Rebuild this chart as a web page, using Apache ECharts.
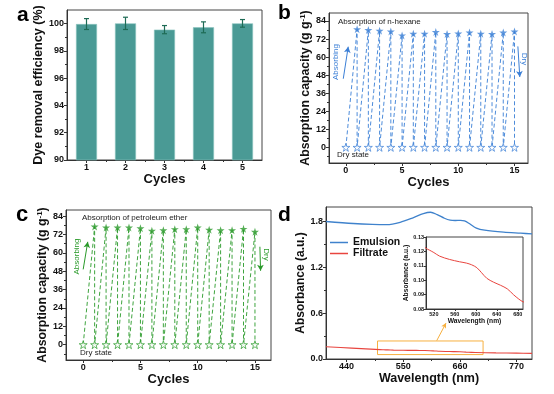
<!DOCTYPE html>
<html><head><meta charset="utf-8">
<script src="https://cdn.jsdelivr.net/npm/echarts@6/dist/echarts.min.js"></script>
<style>html,body{margin:0;padding:0;background:#fff}#c{width:554px;height:394px}</style>
</head><body><div id="c"></div>
<script>
// ---------- Panel a: dye removal efficiency ----------
const cyclesA = [1, 2, 3, 4, 5];
const efficiency = [99.97, 100.02, 99.56, 99.73, 100.02];
const efficiencyErr = [0.4, 0.45, 0.3, 0.4, 0.28];
const ticksAY = [90, 92, 94, 96, 98, 100];
const minorAY = [91, 93, 95, 97, 99];
const ticksAX = [1, 2, 3, 4, 5];
const minorAX = [1.5, 2.5, 3.5, 4.5];

// ---------- Panels b, c: absorption cycles ----------
const cyclesAbs = [1, 2, 3, 4, 5, 6, 7, 8, 9, 10, 11, 12, 13, 14, 15];
const dryCycles = [0, 1, 2, 3, 4, 5, 6, 7, 8, 9, 10, 11, 12, 13, 14, 15];
const hexaneCapacity = [78.5, 78.0, 77.5, 77.0, 74.4, 75.5, 75.5, 76.7, 75.3, 75.7, 76.3, 75.5, 75.3, 76.3, 77.0];
const petroleumCapacity = [77.2, 76.6, 76.6, 76.6, 76.1, 74.4, 74.8, 75.5, 75.5, 76.6, 75.1, 74.8, 74.8, 75.7, 73.8];
const ticksCapY = [0, 12, 24, 36, 48, 60, 72, 84];
const minorCapY = [-6, 6, 18, 30, 42, 54, 66, 78];
const ticksCycX = [0, 5, 10, 15];
const minorCycX = [2.5, 7.5, 12.5];

// ---------- Panel d: UV-vis spectra ----------
const emulsionWl = [400, 453, 490, 518, 544, 570, 589, 603, 616, 630, 641, 651, 661, 669, 679, 692, 708, 745, 778, 800];
const emulsionAbs = [1.80, 1.774, 1.763, 1.76, 1.79, 1.852, 1.903, 1.921, 1.89, 1.843, 1.818, 1.813, 1.816, 1.808, 1.77, 1.713, 1.686, 1.66, 1.647, 1.638];
const filtrateWl = [400, 450, 505, 512, 520, 531, 550, 569, 582, 592, 602, 611, 621, 634, 647, 660, 672, 682, 690, 730, 770, 800];
const filtrateAbs = [0.16, 0.142, 0.1222, 0.1208, 0.1192, 0.1167, 0.1144, 0.1128, 0.1119, 0.1107, 0.1087, 0.1052, 0.1013, 0.0986, 0.0965, 0.094, 0.0899, 0.0869, 0.085, 0.08, 0.077, 0.074];
const ticksDX = [440, 550, 660, 770];
const minorDX = [495, 605, 715];
const ticksDY = [0, 0.6, 1.2, 1.8];
const minorDY = [0.3, 0.9, 1.5];
const ticksInX = [520, 560, 600, 640, 680];
const ticksInY = [0.08, 0.09, 0.10, 0.11, 0.12, 0.13];

const FONT = 'Liberation Sans';
const BLUE = '#3b7fd6';
const GREEN = '#2a9a2a';
const TEAL = '#4a9a95';
const STAR = 'path://M50,2 L61.8,38.2 L99.8,38.2 L69,60.6 L80.9,96.8 L50,74.4 L19.1,96.8 L31,60.6 L0.2,38.2 L38.2,38.2 Z';

function mkAxis(g, min, max, major, minor, fmt, name, gap, nsz, lsz, isY, rich) {
  const pos = isY ? 'left' : 'bottom';
  const main = {
    type: 'value', gridIndex: g, min: min, max: max, position: pos,
    axisLine: {show: true, onZero: false, lineStyle: {color: '#333', width: 1}},
    axisTick: {show: true, length: 3, customValues: major, lineStyle: {color: '#333'}},
    axisLabel: {customValues: major, fontSize: lsz, fontWeight: 'bold', fontFamily: FONT, color: '#111', margin: 3, formatter: fmt},
    splitLine: {show: false},
    name: name, nameLocation: 'middle', nameGap: gap,
    nameTextStyle: {fontSize: nsz, fontWeight: 'bold', fontFamily: FONT, color: '#111', rich: rich}
  };
  if (isY) main.nameRotate = 90;
  const res = [main];
  if (minor) {
    res.push({
      type: 'value', gridIndex: g, min: min, max: max, position: pos,
      axisLine: {show: false, onZero: false}, axisLabel: {show: false}, splitLine: {show: false},
      axisTick: {show: true, length: 2, customValues: minor, lineStyle: {color: '#333'}}
    });
  }
  return res;
}
const supRich = {s: {fontSize: 8, fontWeight: 'bold', fontFamily: FONT, color: '#111', verticalAlign: 'top', padding: [0, 0, 6, 0]}};
const capName = 'Absorption capacity (g g{s|-1})';

const xAxis = [].concat(
  mkAxis(0, 0.5, 5.5, ticksAX, minorAX, null, 'Cycles', 12, 13, 9, false),
  mkAxis(1, -1.5, 16.2, ticksCycX, minorCycX, null, 'Cycles', 9, 13, 9, false),
  mkAxis(2, -1.5, 16.4, ticksCycX, minorCycX, null, 'Cycles', 10, 13, 9, false),
  mkAxis(3, 400, 800, ticksDX, minorDX, null, 'Wavelength (nm)', 11, 12.5, 9, false),
  mkAxis(4, 505, 690, ticksInX, null, null, 'Wavelength (nm)', 6, 6.7, 5.5, false)
);
const yAxis = [].concat(
  mkAxis(0, 90, 101, ticksAY, minorAY, null, 'Dye removal efficiency (%)', 20, 12.6, 9, true),
  mkAxis(1, -10.4, 89.3, ticksCapY, minorCapY, null, capName, 14, 12.3, 9, true, supRich),
  mkAxis(2, -10, 88, ticksCapY, minorCapY, null, capName, 15, 12.3, 9, true, supRich),
  mkAxis(3, 0, 1.99, ticksDY, minorDY, v => v.toFixed(1), 'Absorbance (a.u.)', 16, 12, 9, true),
  mkAxis(4, 0.08, 0.13, ticksInY, null, v => v.toFixed(2), 'Absorbance (a.u.)', 14, 6.7, 5.5, true)
);
xAxis[8].axisTick.length = 2; yAxis[8].axisTick.length = 2;
xAxis[8].axisLabel.margin = 2; yAxis[8].axisLabel.margin = 2;

const gridStyle = {show: true, borderColor: '#444', borderWidth: 1, backgroundColor: 'rgba(0,0,0,0)'};
const grid = [
  Object.assign({left: 67, top: 10, width: 195, height: 150}, gridStyle),
  Object.assign({left: 329, top: 13, width: 199, height: 150}, gridStyle),
  Object.assign({left: 66, top: 210, width: 205, height: 150}, gridStyle),
  Object.assign({left: 326, top: 207, width: 206, height: 152}, gridStyle),
  Object.assign({left: 426, top: 237, width: 97, height: 72}, gridStyle, {backgroundColor: '#fff'})
];

function zigzag(tops) {
  const seq = [[0, 0]];
  cyclesAbs.forEach((c, i) => { seq.push([c, tops[i]]); seq.push([c, 0]); });
  return seq;
}
function cycleSeries(xi, tops, color, arrows) {
  return [
    {type: 'line', xAxisIndex: xi, yAxisIndex: xi, data: zigzag(tops), symbol: 'none',
     lineStyle: {color: color, width: 1, opacity: 0.9, type: [4, 2.5]}, z: 2,
     markLine: {silent: true, symbol: ['none', 'arrow'], symbolSize: [5, 6], label: {show: false},
       lineStyle: {type: 'solid', color: color, width: 1, opacity: 1}, data: arrows}},
    {type: 'scatter', xAxisIndex: xi, yAxisIndex: xi, data: cyclesAbs.map((c, i) => [c, tops[i]]),
     symbol: STAR, symbolSize: 8, itemStyle: {color: color}, z: 3},
    {type: 'scatter', xAxisIndex: xi, yAxisIndex: xi, data: dryCycles.map(c => [c, 0]),
     symbol: STAR, symbolSize: 8, itemStyle: {color: '#fff', borderColor: color, borderWidth: 0.9}, z: 3}
  ];
}

const series = [
  {type: 'bar', xAxisIndex: 0, yAxisIndex: 0, data: cyclesA.map((c, i) => [c, efficiency[i]]),
   barWidth: 21, itemStyle: {color: TEAL, borderColor: '#8cc4bf', borderWidth: 0.6}},
  {type: 'custom', xAxisIndex: 0, yAxisIndex: 0, z: 5,
   data: cyclesA.map((c, i) => [c, efficiency[i], efficiencyErr[i]]),
   renderItem: function (params, api) {
     const x = api.value(0), y = api.value(1), e = api.value(2);
     const t = api.coord([x, y + e]), b = api.coord([x, y - e]);
     const st = {stroke: '#1e6b55', lineWidth: 1.2};
     return {type: 'group', children: [
       {type: 'line', shape: {x1: t[0], y1: t[1], x2: b[0], y2: b[1]}, style: st},
       {type: 'line', shape: {x1: t[0] - 2.5, y1: t[1], x2: t[0] + 2.5, y2: t[1]}, style: st},
       {type: 'line', shape: {x1: b[0] - 2.5, y1: b[1], x2: b[0] + 2.5, y2: b[1]}, style: st}
     ]};
   }}
].concat(
  cycleSeries(2, hexaneCapacity, BLUE, [
    [{coord: [-0.23, 45.6]}, {coord: [0.21, 66.9]}],
    [{coord: [15.3, 67.1]}, {coord: [15.47, 46.8]}]
  ]),
  cycleSeries(4, petroleumCapacity, GREEN, [
    [{coord: [0.0, 49.2]}, {coord: [0.4, 67.2]}],
    [{coord: [15.43, 64]}, {coord: [15.49, 48.3]}]
  ]),
  [
    {name: 'Emulsion', type: 'line', xAxisIndex: 6, yAxisIndex: 6, smooth: 0.3, symbol: 'none',
     data: emulsionWl.map((w, i) => [w, emulsionAbs[i]]), lineStyle: {color: '#3f82cc', width: 1.3}, itemStyle: {color: '#3f82cc'}},
    {name: 'Filtrate', type: 'line', xAxisIndex: 6, yAxisIndex: 6, smooth: 0.3, symbol: 'none',
     data: filtrateWl.map((w, i) => [w, filtrateAbs[i]]), lineStyle: {color: '#e8453f', width: 1.1}, itemStyle: {color: '#e8453f'},
     markArea: {silent: true, label: {show: false}, itemStyle: {color: 'rgba(0,0,0,0)', borderColor: '#f7b040', borderWidth: 1},
       data: [[{coord: [500, 0.058]}, {coord: [705, 0.236]}]]},
     markLine: {silent: true, symbol: ['none', 'arrow'], symbolSize: [4, 5], label: {show: false},
       lineStyle: {type: 'solid', color: '#f7b040', width: 1}, data: [[{coord: [615, 0.24]}, {coord: [633, 0.47]}]]}},
    {type: 'line', xAxisIndex: 8, yAxisIndex: 8, smooth: 0.3, symbol: 'none',
     data: filtrateWl.map((w, i) => [w, filtrateAbs[i]]), lineStyle: {color: '#e8453f', width: 1}}
  ]
);

function txt(x, y, s, font, color, align, rot) {
  return {type: 'text', x: x, y: y, rotation: rot || 0, silent: true,
    style: {text: s, font: font, fill: color, textAlign: align || 'left', align: align || 'left',
      textVerticalAlign: 'middle', verticalAlign: 'middle'}};
}
const graphic = [
  txt(17, 15, 'a', 'bold 21px ' + FONT, '#000'),
  txt(278, 13, 'b', 'bold 21px ' + FONT, '#000'),
  txt(16, 215, 'c', 'bold 22px ' + FONT, '#000'),
  txt(278, 215, 'd', 'bold 21px ' + FONT, '#000'),
  txt(338, 21.5, 'Absorption of n-hexane', '8px ' + FONT, '#222'),
  txt(337, 155, 'Dry state', '8px ' + FONT, '#222'),
  txt(82, 218, 'Absorption of petroleum ether', '8px ' + FONT, '#222'),
  txt(80, 352.5, 'Dry state', '8px ' + FONT, '#222'),
  txt(336, 62, 'Absorbing', '8px ' + FONT, BLUE, 'center', Math.PI / 2),
  txt(524, 59, 'Dry', '8px ' + FONT, BLUE, 'center', -Math.PI / 2),
  txt(77, 256.5, 'Absorbing', '8px ' + FONT, GREEN, 'center', Math.PI / 2),
  txt(266, 254.5, 'Dry', '8px ' + FONT, GREEN, 'center', -Math.PI / 2)
];

const chart = echarts.init(document.getElementById('c'), null, {renderer: 'canvas'});
chart.setOption({
  animation: false,
  backgroundColor: '#fff',
  grid: grid, xAxis: xAxis, yAxis: yAxis, series: series, graphic: graphic,
  legend: {data: [{name: 'Emulsion', icon: 'rect'}, {name: 'Filtrate', icon: 'rect'}],
    orient: 'vertical', left: 330, top: 237, itemWidth: 18, itemHeight: 1.5,
    itemGap: 0, padding: 0, textStyle: {fontSize: 10.5, fontWeight: 'bold', fontFamily: FONT, color: '#111'}}
});
</script></body></html>
